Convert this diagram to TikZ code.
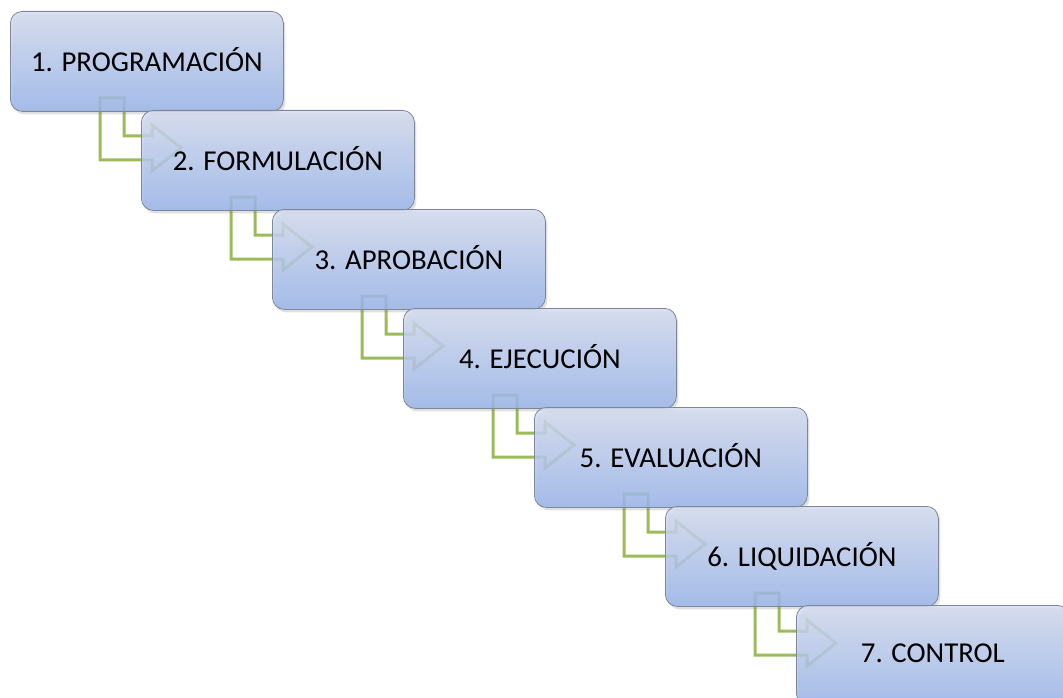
\documentclass[tikz,border=0pt]{standalone}
\usepackage{fontspec}
\setmainfont{Carlito}
\usetikzlibrary{calc,shadows,backgrounds}
\definecolor{boxtop}{HTML}{D4DCF0}
\definecolor{boxbot}{HTML}{98B4EB}
\definecolor{boxline}{HTML}{7D8797}
\definecolor{arrowgreen}{HTML}{9BBB59}
\tikzset{
  stepbox/.style={draw=boxline, line width=0.8pt, rounded corners=12pt,
    minimum width=273pt, minimum height=100pt, anchor=north west,
    top color=boxtop, bottom color=boxbot, fill opacity=0.82, text opacity=1,
    font=\fontsize{28.8}{32}\selectfont, inner sep=0pt, text depth=4pt,
    drop shadow={opacity=0.25, shadow xshift=2pt, shadow yshift=-3pt}},
  bentarrow/.style={draw=arrowgreen, line width=3pt, line join=miter}
}
\begin{document}
\begin{tikzpicture}[x=1pt,y=-1pt]
\useasboundingbox (0,0) rectangle (1063,698);
\clip (0,0) rectangle (1063,698);
\node[stepbox] (n1) at (10,11) {1. PROGRAMACIÓN};
\node[stepbox] (n2) at (141,110) {2. FORMULACIÓN};
\node[stepbox] (n3) at (272,209) {3. APROBACIÓN};
\node[stepbox] (n4) at (403,308) {4. EJECUCIÓN};
\node[stepbox] (n5) at (534,407) {5. EVALUACIÓN};
\node[stepbox] (n6) at (665,506) {6. LIQUIDACIÓN};
\node[stepbox] (n7) at (796,605) {7. CONTROL};
\begin{scope}[on background layer]
\foreach \k in {1,...,6}{
  \coordinate (a) at (n\k.north west);
  \draw[bentarrow] ($(a)+(90,87)$) -- ($(a)+(114,87)$)
    -- ($(a)+(114,125)$) -- ($(a)+(142,125)$)
    -- ($(a)+(142,114)$) -- ($(a)+(171,137)$)
    -- ($(a)+(142,160)$) -- ($(a)+(142,149)$)
    -- ($(a)+(90,149)$) -- cycle;
}
\end{scope}
\end{tikzpicture}
\end{document}
